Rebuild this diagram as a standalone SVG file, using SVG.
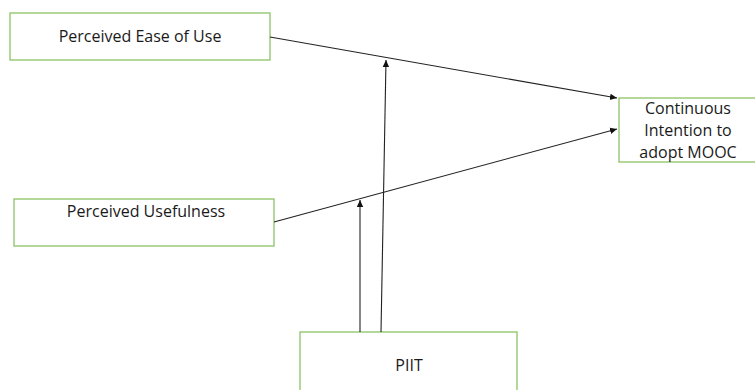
<svg xmlns="http://www.w3.org/2000/svg" width="755" height="390" viewBox="0 0 755 390">
<style>
.box{fill:#fff;stroke:#8cc466;stroke-width:1.3}
.t{font-family:"Open Sans","Liberation Sans",sans-serif;font-size:16px;fill:#1a1a1a;text-anchor:middle}
.c{stroke:#222;stroke-width:1.1;fill:none;marker-end:url(#a)}
</style>
<defs>
<marker id="a" markerWidth="8" markerHeight="8" refX="7" refY="4" orient="auto" markerUnits="userSpaceOnUse">
<path d="M0,0.8 L7,4 L0,7.2 Z" fill="#111"/>
</marker>
</defs>
<rect width="755" height="390" fill="#fff"/>
<g id="peou"><rect class="box" x="10" y="13" width="260" height="47"/><text class="t" x="140" y="42">Perceived Ease of Use</text></g>
<g id="pu"><rect class="box" x="14" y="199" width="260" height="47"/><text class="t" x="146" y="217">Perceived Usefulness</text></g>
<g id="ci"><rect class="box" x="619" y="98" width="140" height="64"/><text class="t" x="688" y="114">Continuous</text><text class="t" x="688" y="136">Intention to</text><text class="t" x="688" y="158">adopt MOOC</text></g>
<g id="piit"><rect class="box" x="300" y="332" width="217" height="62"/><text class="t" x="409" y="371">PIIT</text></g>
<g id="connectors">
<line class="c" x1="270" y1="37" x2="617" y2="98"/>
<line class="c" x1="274" y1="222" x2="617" y2="129"/>
<line class="c" x1="381" y1="332" x2="386" y2="60"/>
<line class="c" x1="360" y1="332" x2="360" y2="200"/>
</g>
</svg>
